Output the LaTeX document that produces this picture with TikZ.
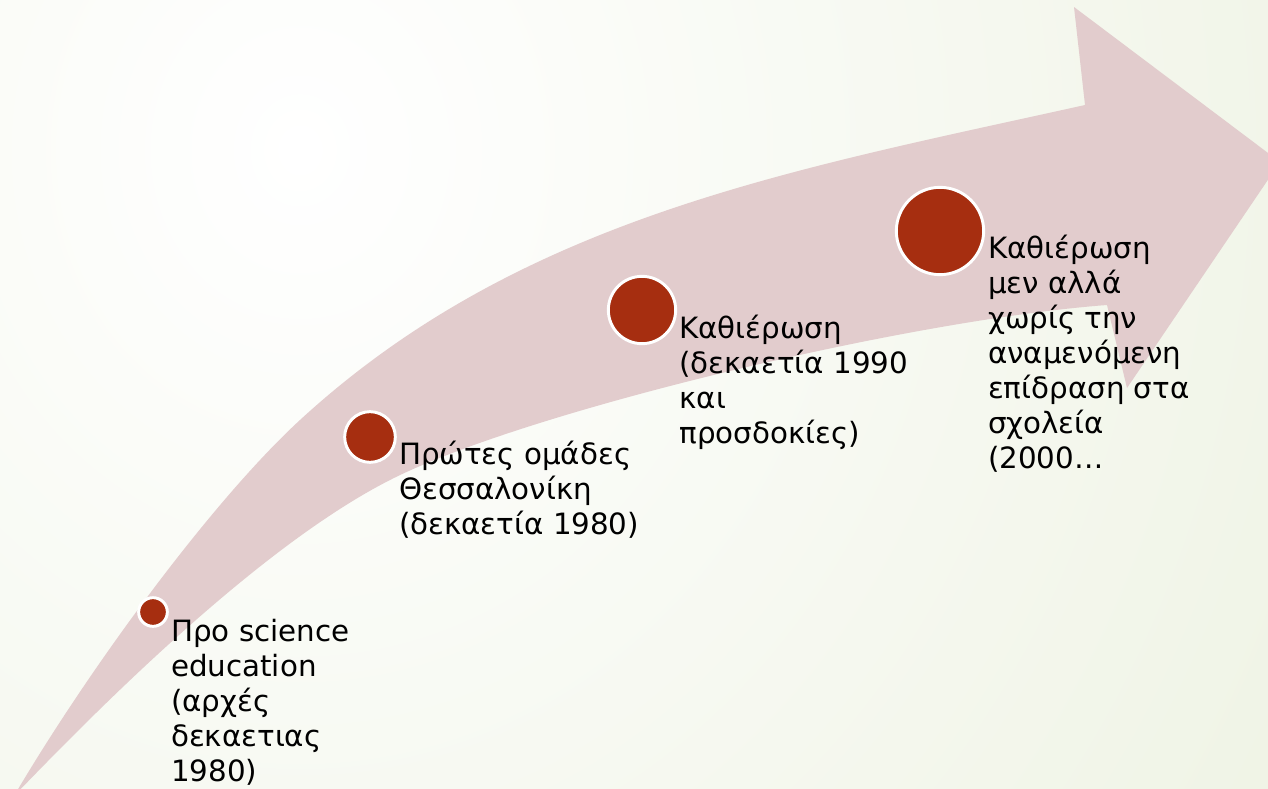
\documentclass[tikz,border=0pt]{standalone}
\usepackage{fontspec}
\setmainfont{DejaVu Sans}
\usetikzlibrary{positioning}

\definecolor{bggreen}{RGB}{233,239,219}
\definecolor{arrowpink}{RGB}{226,204,205}
\definecolor{dotred}{RGB}{166,46,16}

\begin{document}
\begin{tikzpicture}[x=0.75pt,y=0.75pt,yscale=-1,xscale=1,
  dot/.style={circle, fill=dotred, draw=white, line width=2.2pt, inner sep=0pt},
  stagetext/.style={align=left, inner sep=0pt, anchor=north west,
    font=\fontsize{22}{26.25}\selectfont}]

\useasboundingbox (0, 0) rectangle (1268, 789);
\clip (0, 0) rectangle (1268, 789);

% background
\shade [inner color=white, outer color=bggreen] (300, 150) ellipse (1600 and 1800);

% big arrow
\fill [arrowpink] (14, 796) .. controls (90, 667) and (212, 501) .. (300, 420)
  .. controls (521, 217) and (792, 170) .. (1085, 105)
  -- (1074, 7) -- (1280, 162) -- (1127, 388) -- (1107, 305)
  .. controls (907, 320) and (523, 412) .. (390, 480)
  .. controls (256, 548) and (90, 717) .. (14, 796) -- cycle;

% stage 1
\node [dot, minimum size=21.5pt] (c1) at (153, 612) {};
\node [stagetext, below right=5.5pt and 1.5pt of c1.east] (t1) {Προ science\\education\\(αρχές\\δεκαετιας\\1980)};

% stage 2
\node [dot, minimum size=38pt] (c2) at (370, 437) {};
\node [stagetext, below right=3pt and 1.5pt of c2.east] (t2) {Πρώτες ομάδες\\Θεσσαλονίκη\\(δεκαετία 1980)};

% stage 3
\node [dot, minimum size=50.5pt] (c3) at (642, 310) {};
\node [stagetext, below right=3.5pt and 1.5pt of c3.east] (t3) {Καθιέρωση\\(δεκαετία 1990\\και\\προσδοκίες)};

% stage 4
\node [dot, minimum size=65.5pt] (c4) at (940, 231) {};
\node [stagetext, below right=3pt and 2pt of c4.east] (t4) {Καθιέρωση\\μεν αλλά\\χωρίς την\\αναμενόμενη\\επίδραση στα\\σχολεία\\(2000…};

\end{tikzpicture}
\end{document}
